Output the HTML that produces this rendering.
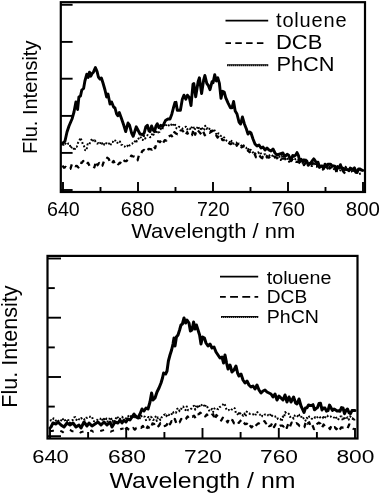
<!DOCTYPE html>
<html><head><meta charset="utf-8"><title>Fluorescence spectra</title>
<style>
html,body{margin:0;padding:0;background:#fff;}
svg{display:block}
text{font-family:"Liberation Sans",Arial,Helvetica,sans-serif;fill:#000}
.ax{stroke:#000;stroke-width:2.2;fill:none;stroke-linecap:butt}
.tk{stroke:#000;stroke-width:1.9;fill:none}
.cv{stroke:#000;stroke-width:2.9;fill:none;stroke-linejoin:round;stroke-linecap:round}
.dt{stroke:#000;stroke-width:2;fill:none;stroke-dasharray:1.8 2;stroke-linejoin:round}
.ds{stroke:#000;stroke-width:2.3;fill:none;stroke-dasharray:5 4.5;stroke-linejoin:round}
</style></head><body>
<svg width="380" height="494" viewBox="0 0 380 494">
<rect width="380" height="494" fill="#fff"/>

<rect class="ax" x="60.8" y="2.2" width="304.2" height="189.8"/>
<line class="tk" x1="60.8" y1="4.8" x2="72.6" y2="4.8"/>
<line class="tk" x1="60.8" y1="41.9" x2="72.6" y2="41.9"/>
<line class="tk" x1="60.8" y1="78.7" x2="72.6" y2="78.7"/>
<line class="tk" x1="60.8" y1="115.9" x2="72.6" y2="115.9"/>
<line class="tk" x1="60.8" y1="152.9" x2="72.6" y2="152.9"/>
<line class="tk" x1="60.8" y1="190" x2="72.6" y2="190"/>
<line class="tk" x1="63.0" y1="182" x2="63.0" y2="192"/>
<line class="tk" x1="100.5" y1="187" x2="100.5" y2="192"/>
<line class="tk" x1="138.0" y1="182" x2="138.0" y2="192"/>
<line class="tk" x1="175.5" y1="187" x2="175.5" y2="192"/>
<line class="tk" x1="213.0" y1="182" x2="213.0" y2="192"/>
<line class="tk" x1="250.5" y1="187" x2="250.5" y2="192"/>
<line class="tk" x1="288.0" y1="182" x2="288.0" y2="192"/>
<line class="tk" x1="325.5" y1="187" x2="325.5" y2="192"/>
<line class="tk" x1="363.0" y1="182" x2="363.0" y2="192"/>
<polyline class="cv" points="61.5,144.0 63.0,143.0 65.0,141.0 67.0,132.0 69.0,126.0 72.0,119.0 74.0,112.0 75.9,102.0 77.6,109.5 78.9,97.0 80.5,96.0 81.8,90.0 83.6,88.5 84.9,81.0 86.8,74.2 88.2,77.5 89.5,72.2 90.8,76.2 92.1,73.6 93.4,72.2 95.4,67.6 97.1,71.6 98.4,77.0 100.0,79.0 101.4,78.0 103.0,83.0 105.0,90.0 106.6,97.0 108.0,94.0 110.0,104.0 111.6,102.0 113.6,107.0 115.0,108.0 116.6,114.0 117.8,115.8 119.3,112.6 121.3,118.0 123.7,125.0 125.7,131.6 128.0,123.0 129.5,125.0 131.6,133.0 133.2,136.3 135.0,130.8 136.3,126.8 137.9,130.0 140.0,134.0 142.6,134.7 144.2,133.0 145.8,126.8 147.4,125.3 149.0,130.8 150.0,131.6 151.6,126.0 153.2,130.0 154.5,131.6 156.0,126.0 157.3,123.7 158.9,127.6 160.8,125.3 162.4,126.8 164.0,123.7 165.5,120.5 167.9,119.0 170.0,119.0 171.8,114.2 173.4,108.0 175.0,102.5 176.0,102.3 177.3,110.2 180.4,110.2 182.3,99.2 183.9,95.2 185.8,99.2 187.4,95.2 189.4,97.6 191.0,105.5 193.0,84.2 193.8,83.5 195.7,96.8 198.1,81.8 199.4,77.8 201.6,93.6 203.6,80.2 204.9,75.5 206.8,83.4 208.4,85.7 210.0,89.7 212.0,81.8 213.1,82.6 214.7,74.7 216.3,81.0 217.8,77.8 219.4,83.4 221.0,98.4 222.6,91.3 224.2,92.0 225.7,97.6 228.1,103.1 230.5,107.8 232.0,107.8 233.6,101.5 235.2,111.0 237.0,114.0 239.0,122.0 240.6,124.0 242.4,117.0 244.4,124.0 246.4,129.0 248.0,134.0 249.6,132.0 251.0,133.0 253.0,139.0 255.0,144.0 257.0,146.0 259.0,145.0 261.0,148.0 263.0,147.0 265.0,150.0 267.0,148.0 269.0,150.0 271.0,151.0 273.0,149.0 275.0,153.0 277.0,155.0 280.0,154.0 283.0,153.0 284.4,156.0 285.8,155.8 287.2,154.2 288.6,155.1 290.0,158.8 291.4,158.8 292.8,155.4 294.2,156.2 295.6,155.1 297.0,152.6 298.4,155.4 299.8,161.6 301.2,159.2 302.6,161.6 304.0,159.8 305.4,161.2 306.8,160.9 308.2,165.3 309.6,163.5 311.0,162.7 312.4,160.7 313.8,158.8 315.2,160.8 316.6,162.6 318.0,162.2 319.4,167.4 320.8,165.9 322.2,166.0 323.6,168.6 325.0,164.2 326.4,166.9 327.8,164.3 329.2,164.3 330.6,164.2 332.0,166.1 333.4,165.8 334.8,166.1 336.2,170.5 337.6,166.6 339.0,168.0 340.4,164.7 341.8,168.5 343.2,168.4 344.6,168.7 346.0,169.6 347.4,169.5 348.8,170.7 350.2,168.1 351.6,168.8 353.0,169.5 354.4,167.8 355.8,172.2 357.2,172.3 358.6,168.9 360.0,168.9 361.4,170.0 362.8,170.4"/>
<polyline class="dt" points="62.4,144.8 63.6,144.8 64.8,142.7 66.0,144.1 67.2,145.0 68.4,143.4 69.6,143.9 70.8,148.4 72.0,146.6 73.2,147.3 74.4,150.6 75.6,146.7 76.8,146.7 78.0,142.9 79.2,141.2 80.4,137.7 81.6,140.4 82.8,144.0 84.0,146.1 85.2,150.1 86.4,150.6 87.6,144.3 88.8,145.1 90.0,142.7 91.2,140.1 92.4,138.5 93.6,141.7 94.8,140.4 96.0,142.3 97.2,143.7 98.4,143.1 99.6,144.2 100.8,141.9 102.0,143.7 103.2,142.2 104.4,144.9 105.6,145.1 106.8,142.2 108.0,142.9 109.2,143.6 110.4,145.6 111.6,142.1 112.8,142.0 114.0,139.8 115.2,140.5 116.4,143.0 117.6,142.8 118.8,140.9 120.0,141.7 121.2,144.7 122.4,144.9 123.6,146.4 124.8,146.5 126.0,147.5 127.2,146.5 128.4,144.0 129.6,145.5 130.8,144.3 132.0,143.8 133.2,142.3 134.4,142.6 135.6,139.5 136.8,141.4 138.0,139.3 139.2,137.8 140.4,136.5 141.6,139.7 142.8,140.0 144.0,135.7 145.2,138.5 146.4,136.5 147.6,135.1 148.8,135.4 150.0,137.2 151.2,137.0 152.4,132.8 153.6,134.7 154.8,131.4 156.0,133.5 157.2,130.9 158.4,132.4 159.6,131.9 160.8,128.9 162.0,130.2 163.2,126.6 164.4,124.9 165.6,126.6 166.8,123.9 168.0,124.7 169.2,125.6 170.4,126.4 171.6,124.1 172.8,123.3 174.0,126.6 175.2,124.8 176.4,128.2 177.6,128.5 178.8,126.7 180.0,127.3 181.2,127.9 182.4,128.7 183.6,127.8 184.8,127.0 186.0,126.7 187.2,129.5 188.4,127.8 189.6,128.3 190.8,129.9 192.0,126.4 193.2,126.2 194.4,130.1 195.6,127.9 196.8,128.7 198.0,126.1 199.2,128.8 200.4,130.1 201.6,127.0 202.8,130.3 204.0,129.8 205.2,125.8 206.4,128.9 207.6,128.2 208.8,129.8 210.0,128.1 211.2,131.1 212.4,132.2 213.6,128.8 214.8,130.8 216.0,133.6 217.2,135.3 218.4,133.3 219.6,134.6 220.8,135.9 222.0,135.9 223.2,136.9 224.4,137.7 225.6,139.1 226.8,141.1 228.0,141.3 229.2,141.8 230.4,143.4 231.6,140.9 232.8,143.0 234.0,143.8 235.2,142.6 236.4,142.6 237.6,145.0 238.8,143.5 240.0,143.9 241.2,145.4 242.4,146.9 243.6,145.4 244.8,146.8 246.0,147.4 247.2,149.8 248.4,149.0 249.6,151.3 250.8,149.7 252.0,151.0 253.2,152.9 254.4,154.4 255.6,153.6 256.8,152.8 258.0,152.1 259.2,153.3 260.4,152.2 261.6,155.3 262.8,156.9 264.0,154.4 265.2,154.2 266.4,156.4 267.6,154.9 268.8,156.2 270.0,154.7 271.2,154.5 272.4,155.7 273.6,157.7 274.8,154.4 276.0,154.2 277.2,155.5 278.4,156.4 279.6,157.2 280.8,160.0 282.0,155.8 283.2,154.8 284.4,159.4 285.6,159.3 286.8,160.6 288.0,158.5 289.2,161.9 290.4,162.1 291.6,158.0 292.8,160.3 294.0,160.4 295.2,159.1 296.4,158.6 297.6,158.9 298.8,160.7 300.0,161.6 301.2,160.6 302.4,163.1 303.6,161.3 304.8,163.8 306.0,159.6 307.2,164.5 308.4,163.8 309.6,165.4 310.8,165.7 312.0,166.1 313.2,164.6 314.4,161.9 315.6,165.9 316.8,163.1 318.0,164.0 319.2,166.4 320.4,166.3 321.6,166.4 322.8,169.7 324.0,168.6 325.2,166.8 326.4,165.9 327.6,168.7 328.8,166.3 330.0,167.5 331.2,166.0 332.4,166.0 333.6,168.6 334.8,170.8 336.0,168.3 337.2,171.2 338.4,171.5 339.6,170.6 340.8,170.3 342.0,165.7 343.2,168.8 344.4,170.5 345.6,166.8 346.8,168.4 348.0,168.9 349.2,170.8 350.4,170.7 351.6,171.1 352.8,172.8 354.0,169.0 355.2,169.4 356.4,170.0 357.6,169.9 358.8,169.4 360.0,173.9 361.2,173.0"/>
<polyline class="ds" points="62.4,165.6 64.0,167.7 65.6,166.9 67.2,168.5 68.8,168.9 70.4,168.8 72.0,163.8 73.6,164.8 75.2,166.2 76.8,165.9 78.4,167.5 80.0,162.6 81.6,163.0 83.2,161.0 84.8,163.4 86.4,164.5 88.0,162.8 89.6,166.1 91.2,165.4 92.8,166.2 94.4,167.3 96.0,161.4 97.6,165.2 99.2,162.9 100.8,166.3 102.4,165.7 104.0,161.2 105.6,160.7 107.2,157.8 108.8,158.9 110.4,163.3 112.0,163.2 113.6,160.9 115.2,164.5 116.8,163.1 118.4,164.3 120.0,162.6 121.6,163.4 123.2,159.9 124.8,161.1 126.4,161.1 128.0,159.4 129.6,159.2 131.2,155.6 132.8,156.3 134.4,156.7 136.0,158.4 137.6,160.3 139.2,154.1 140.8,154.0 142.4,150.9 144.0,149.9 145.6,151.9 147.2,150.1 148.8,148.9 150.4,149.1 152.0,149.6 153.6,146.1 155.2,148.2 156.8,141.1 158.4,141.3 160.0,142.1 161.6,139.6 163.2,142.6 164.8,140.1 166.4,140.6 168.0,137.0 169.6,136.0 171.2,135.3 172.8,137.3 174.4,132.2 176.0,133.5 177.6,134.3 179.2,134.1 180.8,130.3 182.4,130.4 184.0,132.5 185.6,135.1 187.2,132.1 188.8,136.1 190.4,135.6 192.0,135.2 193.6,129.4 195.2,134.7 196.8,129.5 198.4,131.0 200.0,132.7 201.6,134.8 203.2,131.6 204.8,135.3 206.4,133.4 208.0,132.4 209.6,132.8 211.2,131.8 212.8,130.8 214.4,132.0 216.0,135.2 217.6,137.5 219.2,135.4 220.8,135.8 222.4,140.2 224.0,140.1 225.6,141.3 227.2,141.4 228.8,143.0 230.4,144.2 232.0,143.2 233.6,143.3 235.2,142.3 236.8,145.7 238.4,142.9 240.0,145.0 241.6,147.4 243.2,146.1 244.8,149.2 246.4,150.8 248.0,150.5 249.6,152.2 251.2,151.0 252.8,153.4 254.4,153.5 256.0,157.2 257.6,154.9 259.2,155.0 260.8,157.3 262.4,158.3 264.0,159.9 265.6,157.5 267.2,157.1 268.8,157.7 270.4,156.1 272.0,156.1 273.6,157.7 275.2,157.1 276.8,157.6 278.4,160.2 280.0,159.4 281.6,158.5 283.2,158.6 284.8,158.6 286.4,157.8 288.0,158.5 289.6,160.9 291.2,161.0 292.8,158.5 294.4,161.3 296.0,161.8 297.6,161.9 299.2,162.5 300.8,163.8 302.4,162.5 304.0,165.1 305.6,162.6 307.2,163.4 308.8,164.6 310.4,164.2 312.0,162.9 313.6,167.1 315.2,166.4 316.8,166.6 318.4,163.9 320.0,166.9 321.6,165.6 323.2,167.7 324.8,166.3 326.4,167.9 328.0,166.8 329.6,168.6 331.2,167.3 332.8,169.9 334.4,171.1 336.0,171.0 337.6,168.0 339.2,170.0 340.8,170.3 342.4,170.2 344.0,172.5 345.6,173.2 347.2,170.9 348.8,170.7 350.4,168.5 352.0,171.8 353.6,172.8 355.2,170.9 356.8,172.6 358.4,173.1 360.0,173.2 361.6,170.3"/>
<line class="cv" x1="225.5" y1="20.7" x2="268.2" y2="20.7" style="stroke-linecap:butt;stroke-width:1.8"/>
<line class="ds" x1="225.5" y1="43.2" x2="264.2" y2="43.2" style="stroke-dasharray:6.5 4.3;stroke-dashoffset:1;stroke-width:1.8"/>
<line class="tk" x1="227.1" y1="64.8" x2="268.2" y2="64.8" style="stroke-width:0.9"/>
<line class="dt" x1="227.1" y1="65.3" x2="268.2" y2="65.3" style="stroke-dasharray:1.4 0.6;stroke-width:1.8"/>
<text x="276" y="26.8" font-size="20" textLength="70.6" lengthAdjust="spacing">toluene</text>
<text x="276" y="49.1" font-size="20" textLength="46.4" lengthAdjust="spacingAndGlyphs">DCB</text>
<text x="276.4" y="71.3" font-size="20" textLength="58.2" lengthAdjust="spacingAndGlyphs">PhCN</text>
<text x="47" y="216" font-size="19.5" textLength="32.8" lengthAdjust="spacingAndGlyphs">640</text>
<text x="120.8" y="216" font-size="19.5" textLength="33.6" lengthAdjust="spacingAndGlyphs">680</text>
<text x="197" y="216" font-size="19.5" textLength="32.5" lengthAdjust="spacingAndGlyphs">720</text>
<text x="271.4" y="216" font-size="19.5" textLength="33.6" lengthAdjust="spacingAndGlyphs">760</text>
<text x="345.8" y="216" font-size="19.5" textLength="34.2" lengthAdjust="spacingAndGlyphs">800</text>
<text x="131.2" y="237.5" font-size="20.4" textLength="164" lengthAdjust="spacingAndGlyphs">Wavelength / nm</text>
<text x="37.2" y="154" font-size="20" textLength="113.4" lengthAdjust="spacing" transform="rotate(-90 37.2 154)">Flu. Intensity</text>
<rect class="ax" x="47.5" y="255.9" width="310.0" height="182.6"/>
<line class="tk" x1="47.5" y1="258.5" x2="61" y2="258.5"/>
<line class="tk" x1="47.5" y1="288.1" x2="54.8" y2="288.1"/>
<line class="tk" x1="47.5" y1="317.7" x2="61" y2="317.7"/>
<line class="tk" x1="47.5" y1="347.4" x2="54.8" y2="347.4"/>
<line class="tk" x1="47.5" y1="377.0" x2="61" y2="377.0"/>
<line class="tk" x1="47.5" y1="406.6" x2="54.8" y2="406.6"/>
<line class="tk" x1="47.5" y1="436.2" x2="61" y2="436.2"/>
<line class="tk" x1="50.0" y1="428" x2="50.0" y2="438.5"/>
<line class="tk" x1="88.1" y1="432" x2="88.1" y2="438.5"/>
<line class="tk" x1="126.2" y1="428" x2="126.2" y2="438.5"/>
<line class="tk" x1="164.4" y1="432" x2="164.4" y2="438.5"/>
<line class="tk" x1="202.5" y1="428" x2="202.5" y2="438.5"/>
<line class="tk" x1="240.6" y1="432" x2="240.6" y2="438.5"/>
<line class="tk" x1="278.8" y1="428" x2="278.8" y2="438.5"/>
<line class="tk" x1="316.9" y1="432" x2="316.9" y2="438.5"/>
<line class="tk" x1="355.0" y1="428" x2="355.0" y2="438.5"/>
<polyline class="cv" style="stroke-width:3" points="50.0,428.0 51.0,427.0 53.0,423.0 56.0,424.0 58.0,422.0 61.0,425.0 64.0,427.0 67.0,423.0 70.0,425.0 73.0,423.0 76.0,427.0 79.0,425.0 81.0,428.0 84.0,422.0 87.0,426.0 89.0,423.0 92.0,426.0 95.0,424.0 98.0,422.0 101.0,425.0 104.0,422.0 107.0,425.0 110.0,422.0 112.0,427.0 115.0,422.0 118.0,423.0 120.0,420.0 122.0,423.0 124.0,420.0 126.0,422.0 128.0,419.0 130.0,420.0 132.0,417.0 134.0,414.0 136.0,417.0 138.0,418.0 140.0,414.0 142.0,409.0 144.0,411.0 146.0,408.0 148.0,409.0 150.0,402.0 151.6,393.0 153.0,400.0 155.0,398.0 157.0,392.0 159.0,388.0 161.0,383.0 162.5,378.0 163.6,373.0 165.6,374.0 167.0,371.0 168.4,361.0 170.0,355.0 171.6,350.0 173.0,344.0 174.0,338.0 175.0,346.0 176.4,337.0 178.0,335.0 179.6,330.0 181.0,325.0 182.4,324.0 184.0,318.0 185.6,323.0 187.0,320.0 189.0,323.0 190.4,331.0 192.0,330.0 193.6,322.0 195.0,329.0 196.4,325.0 198.0,330.0 199.6,335.0 201.0,344.0 202.6,337.0 204.4,338.0 206.0,343.0 208.0,346.0 210.0,344.0 212.0,348.0 214.0,347.0 216.0,352.0 218.0,355.0 220.0,358.0 222.0,357.0 223.6,363.0 225.0,355.0 226.6,363.0 228.0,369.0 230.0,365.0 232.0,372.0 234.0,370.0 236.0,366.0 237.6,373.0 239.0,376.0 241.0,374.0 243.0,380.0 245.0,383.0 247.0,381.0 249.0,385.0 251.0,387.0 253.0,386.0 255.0,389.0 257.0,385.0 259.0,390.0 261.0,393.0 263.0,391.0 265.0,390.0 267.0,392.0 269.0,393.0 271.0,394.0 273.0,397.0 275.0,394.0 277.0,400.0 279.0,396.0 281.0,398.0 283.0,400.0 285.0,395.0 287.0,402.0 289.0,397.0 291.0,402.0 293.6,397.0 295.6,403.0 297.0,404.0 299.0,399.0 301.0,406.0 302.5,409.1 304.0,412.5 305.5,408.0 307.0,407.7 308.5,405.0 310.0,405.5 311.5,405.6 313.0,404.7 314.5,409.8 316.0,408.5 317.5,407.5 319.0,403.5 320.5,403.2 322.0,410.0 323.5,407.9 325.0,408.1 326.5,411.1 328.0,410.6 329.5,405.1 331.0,407.8 332.5,410.4 334.0,409.0 335.5,409.9 337.0,411.0 338.5,410.8 340.0,411.2 341.5,407.6 343.0,408.0 344.5,413.7 346.0,410.3 347.5,409.0 349.0,412.8 350.5,413.6 352.0,410.6 353.5,410.5 355.0,410.5"/>
<polyline class="dt" points="50.0,420.8 51.2,420.1 52.4,420.6 53.6,418.3 54.8,419.4 56.0,420.7 57.2,419.4 58.4,420.8 59.6,421.1 60.8,421.6 62.0,418.1 63.2,419.3 64.4,418.4 65.6,422.1 66.8,421.7 68.0,418.8 69.2,422.9 70.4,422.4 71.6,420.5 72.8,420.0 74.0,417.4 75.2,417.1 76.4,419.9 77.6,418.1 78.8,419.1 80.0,419.8 81.2,418.0 82.4,419.4 83.6,418.6 84.8,419.8 86.0,417.7 87.2,417.8 88.4,416.6 89.6,416.9 90.8,416.4 92.0,416.4 93.2,420.8 94.4,421.4 95.6,420.9 96.8,420.5 98.0,418.8 99.2,418.6 100.4,418.9 101.6,417.7 102.8,420.8 104.0,418.9 105.2,420.8 106.4,418.5 107.6,421.5 108.8,421.1 110.0,417.3 111.2,418.5 112.4,421.8 113.6,419.3 114.8,421.4 116.0,418.2 117.2,416.2 118.4,418.7 119.6,419.6 120.8,417.4 122.0,416.7 123.2,418.1 124.4,421.1 125.6,419.7 126.8,416.2 128.0,416.4 129.2,415.4 130.4,414.9 131.6,418.4 132.8,415.5 134.0,417.3 135.2,416.9 136.4,415.8 137.6,418.5 138.8,415.7 140.0,418.3 141.2,415.8 142.4,417.3 143.6,416.4 144.8,416.7 146.0,420.1 147.2,419.3 148.4,417.0 149.6,419.8 150.8,416.7 152.0,417.7 153.2,420.0 154.4,419.1 155.6,416.6 156.8,421.0 158.0,417.4 159.2,417.8 160.4,420.1 161.6,417.4 162.8,416.6 164.0,415.0 165.2,414.4 166.4,416.2 167.6,414.0 168.8,415.1 170.0,413.4 171.2,413.2 172.4,415.0 173.6,412.1 174.8,412.0 176.0,412.8 177.2,408.9 178.4,408.1 179.6,411.2 180.8,410.1 182.0,406.8 183.2,406.5 184.4,409.1 185.6,410.1 186.8,406.5 188.0,410.2 189.2,410.1 190.4,409.1 191.6,408.5 192.8,406.7 194.0,405.8 195.2,409.6 196.4,405.5 197.6,407.2 198.8,404.6 200.0,407.1 201.2,405.7 202.4,404.2 203.6,404.2 204.8,407.5 206.0,404.9 207.2,406.6 208.4,409.1 209.6,411.4 210.8,410.5 212.0,408.9 213.2,412.0 214.4,408.6 215.6,407.7 216.8,408.7 218.0,409.2 219.2,407.1 220.4,406.8 221.6,405.7 222.8,404.7 224.0,403.2 225.2,405.5 226.4,409.2 227.6,410.5 228.8,409.9 230.0,410.9 231.2,410.4 232.4,408.3 233.6,407.8 234.8,408.3 236.0,413.5 237.2,413.4 238.4,415.4 239.6,411.5 240.8,415.1 242.0,414.9 243.2,415.8 244.4,413.5 245.6,416.5 246.8,411.6 248.0,413.2 249.2,413.5 250.4,414.1 251.6,413.8 252.8,414.1 254.0,415.0 255.2,415.8 256.4,411.9 257.6,412.3 258.8,413.7 260.0,414.8 261.2,413.8 262.4,416.3 263.6,416.3 264.8,414.6 266.0,414.6 267.2,414.0 268.4,415.6 269.6,416.3 270.8,413.6 272.0,415.7 273.2,416.8 274.4,416.2 275.6,416.7 276.8,416.3 278.0,419.1 279.2,419.0 280.4,418.9 281.6,421.4 282.8,416.6 284.0,417.7 285.2,412.1 286.4,413.8 287.6,414.1 288.8,413.8 290.0,417.0 291.2,416.2 292.4,416.9 293.6,418.6 294.8,415.6 296.0,414.7 297.2,415.7 298.4,417.3 299.6,414.7 300.8,414.8 302.0,418.9 303.2,418.4 304.4,417.9 305.6,420.7 306.8,417.9 308.0,419.1 309.2,416.5 310.4,417.2 311.6,418.6 312.8,419.1 314.0,419.2 315.2,417.0 316.4,418.1 317.6,417.1 318.8,416.0 320.0,417.3 321.2,418.6 322.4,418.2 323.6,417.1 324.8,418.4 326.0,415.6 327.2,415.5 328.4,417.2 329.6,416.8 330.8,416.5 332.0,417.3 333.2,418.1 334.4,417.2 335.6,416.2 336.8,418.9 338.0,420.0 339.2,417.8 340.4,416.4 341.6,416.6 342.8,420.7 344.0,416.5 345.2,419.5 346.4,418.6 347.6,417.2 348.8,419.6 350.0,416.3 351.2,417.2 352.4,419.0 353.6,417.3 354.8,421.5"/>
<polyline class="ds" style="stroke-dasharray:4 7;stroke-width:2" points="50.0,430.6 51.6,431.1 53.2,430.8 54.8,430.8 56.4,429.6 58.0,430.2 59.6,430.6 61.2,431.2 62.8,432.2 64.4,430.5 66.0,430.7 67.6,429.6 69.2,429.8 70.8,430.3 72.4,431.3 74.0,431.2 75.6,430.4 77.2,431.1 78.8,431.2 80.4,432.5 82.0,431.9 83.6,431.4 85.2,430.9 86.8,430.6 88.4,431.2 90.0,431.2 91.6,430.5 93.2,431.8 94.8,431.4 96.4,432.2 98.0,432.1 99.6,431.3 101.2,430.7 102.8,430.3 104.4,429.7 106.0,429.6 107.6,431.2 109.2,431.4 110.8,431.7 112.4,430.9 114.0,430.4 115.6,430.5 117.2,429.2 118.8,430.0 120.4,429.3 122.0,428.7 123.6,428.5"/>
<polyline class="ds" points="125.2,429.3 126.8,428.0 128.4,429.3 130.0,430.2 131.6,429.3 133.2,428.0 134.8,429.6 136.4,428.0 138.0,427.7 139.6,427.2 141.2,427.8 142.8,425.9 144.4,428.7 146.0,429.9 147.6,426.5 149.2,427.9 150.8,428.6 152.4,423.5 154.0,423.8 155.6,427.2 157.2,427.2 158.8,425.9 160.4,423.1 162.0,424.0 163.6,426.1 165.2,425.8 166.8,424.9 168.4,421.3 170.0,424.2 171.6,421.1 173.2,422.4 174.8,419.0 176.4,423.5 178.0,421.6 179.6,422.2 181.2,419.0 182.8,420.7 184.4,419.6 186.0,418.7 187.6,416.5 189.2,418.5 190.8,416.8 192.4,416.8 194.0,415.7 195.6,418.1 197.2,414.3 198.8,414.2 200.4,412.7 202.0,415.2 203.6,414.9 205.2,416.4 206.8,414.5 208.4,416.7 210.0,416.2 211.6,414.8 213.2,414.3 214.8,419.7 216.4,415.0 218.0,416.7 219.6,417.7 221.2,420.5 222.8,417.7 224.4,419.9 226.0,419.6 227.6,422.4 229.2,418.2 230.8,419.7 232.4,420.1 234.0,423.2 235.6,421.3 237.2,421.6 238.8,422.9 240.4,420.9 242.0,419.5 243.6,422.0 245.2,424.2 246.8,423.8 248.4,422.2 250.0,425.5 251.6,427.4 253.2,425.2 254.8,427.1 256.4,425.0 258.0,423.6 259.6,423.1 261.2,421.8 262.8,422.4 264.4,421.1 266.0,423.4 267.6,422.2 269.2,426.2 270.8,425.7 272.4,422.7 274.0,427.1 275.6,424.3 277.2,426.0 278.8,426.6 280.4,425.6 282.0,425.6 283.6,426.6 285.2,424.6 286.8,427.9 288.4,423.3 290.0,426.5 291.6,422.6 293.2,423.4 294.8,424.4 296.4,423.1 298.0,424.2 299.6,426.1 301.2,426.0 302.8,427.4 304.4,427.1 306.0,421.1 307.6,423.5 309.2,422.3 310.8,426.8 312.4,425.1 314.0,429.1 315.6,426.7 317.2,423.9 318.8,422.7 320.4,423.8 322.0,427.7 323.6,424.5 325.2,426.8 326.8,426.9 328.4,427.0 330.0,429.0 331.6,425.3 333.2,427.4 334.8,427.2 336.4,429.2 338.0,427.4 339.6,430.1 341.2,427.3 342.8,427.6 344.4,427.4 346.0,428.1 347.6,428.3 349.2,424.5 350.8,425.0 352.4,427.5 354.0,429.4"/>
<line class="cv" x1="220" y1="276.6" x2="258.2" y2="276.6" style="stroke-linecap:butt;stroke-width:1.8"/>
<line class="ds" x1="220" y1="296.8" x2="258.2" y2="296.8" style="stroke-dasharray:7.9 4.3;stroke-dashoffset:2.1;stroke-width:1.8"/>
<line class="tk" x1="221.1" y1="316.5" x2="258.2" y2="316.5" style="stroke-width:0.9"/>
<line class="dt" x1="221.1" y1="317" x2="258.2" y2="317" style="stroke-dasharray:1.4 0.6;stroke-width:1.8"/>
<text x="266.8" y="283.7" font-size="17.6" textLength="64.6" lengthAdjust="spacingAndGlyphs">toluene</text>
<text x="266.8" y="303.2" font-size="17.6" textLength="40.4" lengthAdjust="spacingAndGlyphs">DCB</text>
<text x="266.8" y="323.2" font-size="17.6" textLength="52.2" lengthAdjust="spacingAndGlyphs">PhCN</text>
<text x="32.2" y="463" font-size="18.3" textLength="36.6" lengthAdjust="spacingAndGlyphs">640</text>
<text x="108" y="463" font-size="18.3" textLength="38" lengthAdjust="spacingAndGlyphs">680</text>
<text x="184" y="463" font-size="18.3" textLength="38" lengthAdjust="spacingAndGlyphs">720</text>
<text x="260" y="463" font-size="18.3" textLength="38" lengthAdjust="spacingAndGlyphs">760</text>
<text x="336.4" y="463" font-size="18.3" textLength="38.0" lengthAdjust="spacingAndGlyphs">800</text>
<text x="109.5" y="487.7" font-size="21.4" textLength="186" lengthAdjust="spacingAndGlyphs">Wavelength / nm</text>
<text x="16.8" y="407.8" font-size="21.5" textLength="122.4" lengthAdjust="spacingAndGlyphs" transform="rotate(-90 16.8 407.8)">Flu. Intensity</text>
</svg></body></html>
